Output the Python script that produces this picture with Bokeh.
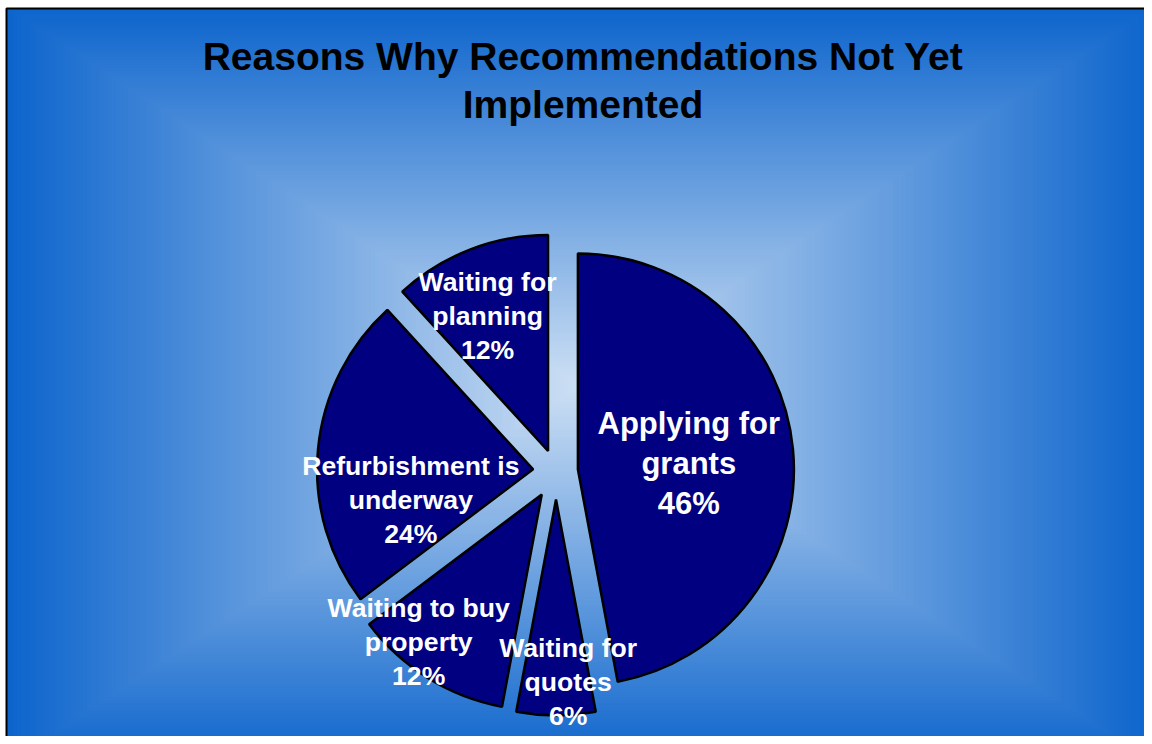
import numpy as np
from bokeh.plotting import figure
from bokeh.models import Range1d
from bokeh.core.properties import value
from bokeh.embed import file_html
from bokeh.resources import INLINE

# ---- data ----
categories = ["Applying for grants", "Waiting for quotes", "Waiting to buy property",
              "Refurbishment is underway", "Waiting for planning"]
label_lines = [["Applying for", "grants"], ["Waiting for", "quotes"],
               ["Waiting to buy", "property"], ["Refurbishment is", "underway"],
               ["Waiting for", "planning"]]
values = [47.1, 5.9, 11.8, 23.5, 11.8]          # slice shares as drawn
pct_labels = ["46%", "6%", "12%", "24%", "12%"]  # percentages as printed
title_lines = ["Reasons Why Recommendations Not Yet", "Implemented"]

# ---- layout / style ----
W, H = 1144, 736
FX, FY = 6, 728            # frame left edge / top edge (plot units = pixels)
CX, CY = 555.5, 265.0      # pie centre
R = 216.0
explode = [22.0, 28.0, 27.0, 23.0, 22.0]
label_dist = [133.0, 211.0, 219.0, 148.0, 169.5]
label_turn_deg = [1.9, -3.3, 7.0, -16.6, -2.6]
label_size = ["31px", "26.6px", "26.6px", "26.6px", "26.6px"]
label_step = [40, 34, 34, 34, 34]

p = figure(width=W, height=H, x_range=Range1d(0, W), y_range=Range1d(0, H),
           output_backend="svg", toolbar_location=None, min_border=0,
           x_axis_type=None, y_axis_type=None)
p.grid.visible = False
p.outline_line_color = None
p.background_fill_color = "white"
p.border_fill_color = "white"

# ---- rectangular "from centre" background gradient ----
gx, gy = 580.0, 351.0
hw, hh = 576.0, 380.0
dark = np.array([12, 100, 204], float)
light = np.array([206, 224, 244], float)
N = 140
lefts, rights, tops, bottoms, cols = [], [], [], [], []
for i in range(N):
    s = 1.0 - i / N
    c = light * (1 - s) + dark * s
    lefts.append(max(gx - hw * s, FX)); rights.append(gx + hw * s)
    bottoms.append(gy - hh * s); tops.append(min(gy + hh * s, FY))
    cols.append("#%02x%02x%02x" % tuple(int(round(v)) for v in c))
p.quad(left=lefts, right=rights, bottom=bottoms, top=tops,
       fill_color=cols, line_color=None)

# frame (only left and top edges are visible in the reference)
p.line(x=[FX, FX, W + 5], y=[-5, FY, FY], line_color="black", line_width=2)

# ---- exploded pie ----
vals = np.array(values, float)
frac = vals / vals.sum()
cum = np.concatenate([[0.0], np.cumsum(frac)])
th0 = cum[:-1] * 2 * np.pi          # clockwise from 12 o'clock
th1 = cum[1:] * 2 * np.pi
mid = (th0 + th1) / 2
ex = np.array(explode)
wx = CX + ex * np.sin(mid)
wy = CY + ex * np.cos(mid)
p.wedge(x=wx, y=wy, radius=R, start_angle=np.pi / 2 - th0, end_angle=np.pi / 2 - th1,
        direction="clock", fill_color="#000080", line_color="black", line_width=2.5)

# ---- labels ----
for k in range(len(values)):
    ang = mid[k] + np.radians(label_turn_deg[k])
    lx = CX + label_dist[k] * np.sin(ang)
    ly = CY + label_dist[k] * np.cos(ang)
    lines = label_lines[k] + [pct_labels[k]]
    ys = [ly + label_step[k], ly, ly - label_step[k]]
    p.text(x=[lx] * 3, y=ys, text=lines, text_align="center", text_baseline="middle",
           text_color="white", text_font=value("Liberation Sans"),
           text_font_style="bold", text_font_size=label_size[k])

# ---- title ----
p.text(x=[582.5, 582.5], y=[680, 632], text=title_lines, text_align="center",
       text_baseline="middle", text_color="black", text_font=value("Liberation Sans"),
       text_font_style="bold", text_font_size="39px")

open("out.html", "w").write(file_html(p, INLINE))
